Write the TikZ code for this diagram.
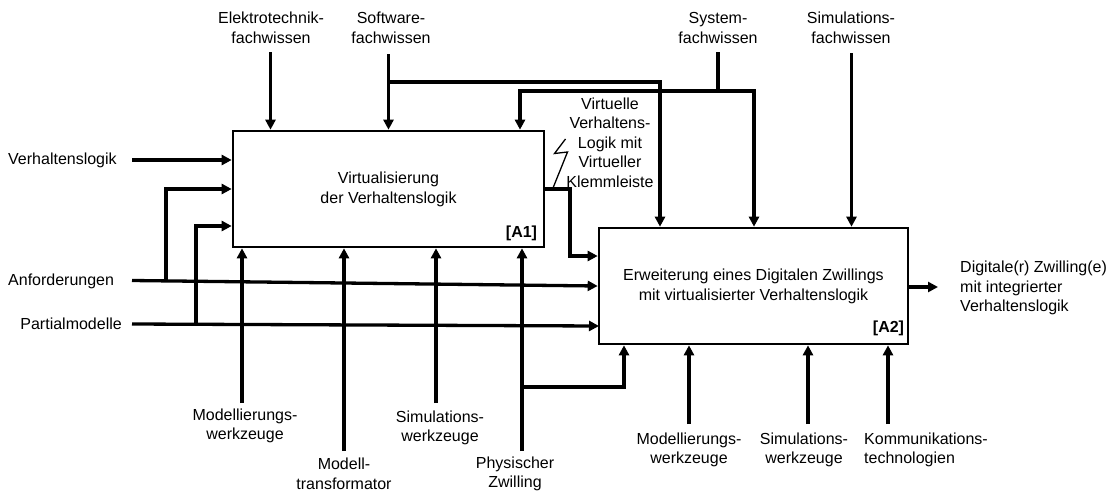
\documentclass[tikz,border=0pt]{standalone}
\usepackage{fontspec}
\setmainfont{Liberation Sans}
\usetikzlibrary{arrows.meta}
\begin{document}
\begin{tikzpicture}[x=1pt,y=-1pt,
  conn/.style={line width=3.3pt},
  arr/.style={conn,-{Triangle[length=10pt,width=10pt]}},
  box/.style={draw,line width=2.6pt,minimum width=311pt,minimum height=116pt,inner sep=0pt,
              align=center,font=\fontsize{16}{20}\selectfont},
  lbl/.style={font=\fontsize{16}{19.5}\selectfont,align=center,inner sep=0pt},
  tag/.style={font=\fontsize{16}{19.5}\selectfont\bfseries,inner sep=0pt},
]
\useasboundingbox (0,0) rectangle (1111,493);

% activity boxes
\node[box] (A1) at (388.5,189) {Virtualisierung\\der Verhaltenslogik};
\node[box,minimum width=309pt] (A2) at (753.5,286) {Erweiterung eines Digitalen Zwillings\\mit virtualisierter Verhaltenslogik};
\node[tag] (t1) at (521.5,233) {[A1]};
\node[tag] (t2) at (888.5,328) {[A2]};

% controls (top)
\node[lbl] (elL) at (271,28) {Elektrotechnik-\\fachwissen};
\node[lbl] (swL) at (391,28) {Software-\\fachwissen};
\node[lbl] (syL) at (718,28) {System-\\fachwissen};
\node[lbl] (siL) at (851,28) {Simulations-\\fachwissen};

\coordinate (elT) at (270.5,52);
\coordinate (swT) at (388.5,54);
\coordinate (swJ) at (388.5,82);
\coordinate (swR) at (660,82);
\coordinate (syT) at (718,52);
\coordinate (syJ) at (718,91);
\coordinate (syL1) at (520,91);
\coordinate (syR) at (754,91);
\coordinate (siT) at (851.5,53);

\draw[arr] (elT) -- (elT |- A1.north);
\draw[arr] (swT) -- (swT |- A1.north);
\draw[arr] (swJ) -- (swR) -- (swR |- A2.north);
\draw[conn] (syT) -- (syJ);
\draw[arr] (syJ) -- (syL1) -- (syL1 |- A1.north);
\draw[arr] (syJ) -- (syR) -- (syR |- A2.north);
\draw[arr] (siT) -- (siT |- A2.north);

% inputs (left)
\node[lbl,anchor=west] (vl) at (8,160) {Verhaltenslogik};
\node[lbl,anchor=west] (anf) at (8,281) {Anforderungen};
\node[lbl,anchor=east] (pm) at (122,324) {Partialmodelle};

\coordinate (vlS) at (132,160);
\coordinate (anfS) at (132,280.5);
\coordinate (anfJ) at (166,280.6);
\coordinate (pmS) at (132,324);
\coordinate (pmJ) at (196,324.4);
\coordinate (pmE) at (599,326);

\draw[arr] (vlS) -- (vlS -| A1.west);
\draw[arr] (anfS) -- (A2.west);
\draw[arr] (anfJ) |- (A1.west);
\draw[arr] (pmS) -- (pmE);
\draw[arr] (pmJ) |- ([yshift=-37pt]A1.west);

% output of A1 into A2
\node[lbl] (vvl) at (610,142.5) {Virtuelle\\Verhaltens-\\Logik mit\\Virtueller\\Klemmleiste};
\coordinate (a1K) at (570,189);
\draw[arr] (A1.east) -- (a1K) |- ([yshift=30pt]A2.west);
\draw[line width=1.3pt] (553,188) -- (567.5,152) -- (554.5,153.5) -- (565.5,139);

% mechanisms (bottom of A1)
\node[lbl] (mw1L) at (245,426) {Modellierungs-\\werkzeuge};
\node[lbl] (mtL) at (344,474) {Modell-\\transformator};
\node[lbl] (si1L) at (440,428) {Simulations-\\werkzeuge};
\node[lbl] (pzL) at (515,474) {Physischer\\Zwilling};

\coordinate (mw1) at (242,403);
\coordinate (mt) at (344,451);
\coordinate (si1) at (436,403);
\coordinate (pz) at (522,451);
\coordinate (pzJ) at (522,387);
\coordinate (pzR) at (624,387);

\draw[arr] (mw1) -- (mw1 |- A1.south);
\draw[arr] (mt) -- (mt |- A1.south);
\draw[arr] (si1) -- (si1 |- A1.south);
\draw[arr] (pz) -- (pz |- A1.south);
\draw[arr] (pzJ) -- (pzR) -- (pzR |- A2.south);

% mechanisms (bottom of A2)
\node[lbl] (mw2L) at (689,450) {Modellierungs-\\werkzeuge};
\node[lbl] (si2L) at (804,450) {Simulations-\\werkzeuge};
\node[lbl,anchor=west,align=left] (ktL) at (864,450) {Kommunikations-\\technologien};

\coordinate (mw2) at (689,424);
\coordinate (si2) at (808,424);
\coordinate (kt) at (888,424);

\draw[arr] (mw2) -- (mw2 |- A2.south);
\draw[arr] (si2) -- (si2 |- A2.south);
\draw[arr] (kt) -- (kt |- A2.south);

% output of A2
\node[lbl,anchor=west,align=left] (dz) at (960,288) {Digitale(r) Zwilling(e)\\mit integrierter\\Verhaltenslogik};
\coordinate (dzT) at (938,287);
\draw[arr] ([yshift=-1pt]A2.east) -- (dzT);
\end{tikzpicture}
\end{document}
